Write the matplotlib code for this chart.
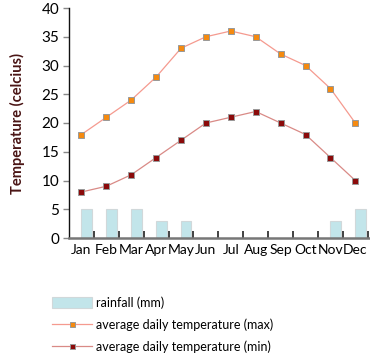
import matplotlib
matplotlib.use("Agg")
import matplotlib.pyplot as plt
import numpy as np

months = ["Jan", "Feb", "Mar", "Apr", "May", "Jun",
          "Jul", "Aug", "Sep", "Oct", "Nov", "Dec"]
rainfall = [5, 5, 5, 3, 3, 0, 0, 0, 0, 0, 3, 5]
temp_max = [18, 21, 24, 28, 33, 35, 36, 35, 32, 30, 26, 20]
temp_min = [8, 9, 11, 14, 17, 20, 21, 22, 20, 18, 14, 10]

plt.rcParams['font.family'] = ['Lato', 'DejaVu Sans']

fig = plt.figure(figsize=(3.7, 3.54), dpi=100)
ax = fig.add_axes([69 / 370, 1 - 238 / 354, 300 / 370, 230 / 354])

x = np.arange(len(months))
bars = ax.bar(x, rainfall, width=0.42, align='edge', color='#c2e5ea',
              edgecolor='#d0d8da', linewidth=0.8, label='rainfall (mm)', zorder=1)
lmax, = ax.plot(x, temp_max, color='#f59a8f', lw=0.9, marker='s', ms=4.5,
                mfc='#f58a10', mec='#999999', mew=0.7,
                label='average daily temperature (max)', zorder=3)
lmin, = ax.plot(x, temp_min, color='#d98a86', lw=0.9, marker='s', ms=4.5,
                mfc='#8b0a0a', mec='#999999', mew=0.7,
                label='average daily temperature (min)', zorder=3)

ax.set_xlim(-0.5, 11.55)
ax.set_ylim(0, 40)
ax.set_yticks(range(0, 41, 5))
ax.set_xticks(x)
ax.set_xticklabels(months)
ax.set_xticks(np.arange(0.5, 12, 1), minor=True)
ax.tick_params(axis='x', which='major', length=0, pad=4, labelsize=10)
ax.tick_params(axis='x', which='minor', direction='in', length=5,
               width=1.2, color='#222222')
ax.tick_params(axis='y', direction='out', length=4, width=1,
               color='#888888', labelsize=11, pad=3)

for s in ['top', 'right']:
    ax.spines[s].set_visible(False)
ax.spines['left'].set_color('#111111')
ax.spines['left'].set_linewidth(1.0)
ax.spines['bottom'].set_color('#777777')
ax.spines['bottom'].set_linewidth(1.8)

ax.set_ylabel('Temperature (celcius)', fontsize=10.5, fontweight='bold',
              color='#4a1515', labelpad=12)

fig.legend(handles=[bars, lmax, lmin], loc='upper left',
           bbox_to_anchor=(41 / 370, 1 - 285 / 354), frameon=False,
           fontsize=9, handlelength=3.2, handleheight=0.9,
           labelspacing=0.75, handletextpad=0.3, markerscale=0.8)

fig.savefig("out.png", dpi=100)
